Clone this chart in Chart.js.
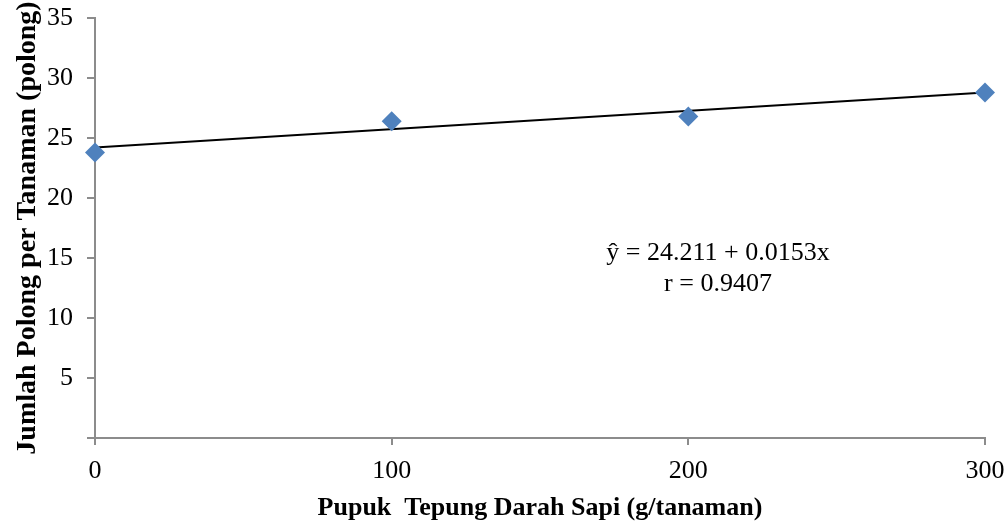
<!DOCTYPE html>
<html>
<head>
<meta charset="utf-8">
<script src="https://cdn.jsdelivr.net/npm/chart.js@4/dist/chart.umd.min.js"></script>
<style>
  html, body { margin: 0; padding: 0; background: #fff; }
  #wrap { width: 1008px; height: 524px; }
</style>
</head>
<body>
<div id="wrap"><canvas id="chart" width="1008" height="524"></canvas></div>
<script>
// dosis pupuk (g/tanaman) dan jumlah polong per tanaman
const doses = [0, 100, 200, 300];
const pods = [23.8, 26.4, 26.8, 28.8];
const yTicks = [0, 5, 10, 15, 20, 25, 30, 35];
const xTicks = [0, 100, 200, 300];

// garis regresi: ŷ = a + bx
const intercept = 24.211;
const slope = 0.0153;
const rValue = 0.9407;
const trendX = [0, 300];

const SERIF = "'Liberation Serif', 'Times New Roman', serif";
const AXIS_GRAY = "#8c8c8c";

// teks persamaan di dalam area plot
const equationLabel = {
  id: "equationLabel",
  afterDatasetsDraw(chart) {
    const { ctx, scales: { x, y } } = chart;
    ctx.save();
    ctx.fillStyle = "#000";
    ctx.font = "26px " + SERIF;
    ctx.textAlign = "center";
    ctx.textBaseline = "middle";
    const cx = x.getPixelForValue(210);
    ctx.fillText("ŷ = " + intercept.toFixed(3) + " + " + slope.toFixed(4) + "x", cx, y.getPixelForValue(15.4));
    ctx.fillText("r = " + rValue.toFixed(4), cx, y.getPixelForValue(12.8));
    ctx.restore();
  },
};

// biar area plot hanya ditentukan oleh layout.padding
const noEdgePad = s => { s.paddingTop = 0; s.paddingBottom = 0; s.paddingLeft = 0; s.paddingRight = 0; };

new Chart(document.getElementById("chart"), {
  type: "scatter",
  data: {
    datasets: [
      {
        label: "Trend",
        type: "line",
        data: trendX.map(v => ({ x: v, y: intercept + slope * v })),
        borderColor: "#000",
        borderWidth: 2,
        pointRadius: 0,
        fill: false,
        order: 2,
      },
      {
        label: "Jumlah polong",
        data: doses.map((d, i) => ({ x: d, y: pods[i] })),
        pointStyle: "rectRot",
        pointRadius: 10,
        pointHoverRadius: 10,
        backgroundColor: "#4f81bd",
        borderColor: "#4f81bd",
        borderWidth: 0,
        clip: false,
        order: 1,
      },
    ],
  },
  options: {
    responsive: false,
    animation: false,
    layout: { padding: { left: 0, right: 23, top: 18, bottom: 0 } },
    plugins: { legend: { display: false }, tooltip: { enabled: false } },
    scales: {
      x: {
        type: "linear",
        min: 0, max: 300,
        afterBuildTicks: s => { s.ticks = xTicks.map(v => ({ value: v })); },
        afterFit: s => { s.height = 86; noEdgePad(s); },
        grid: { drawOnChartArea: false, drawTicks: true, tickLength: 7, color: AXIS_GRAY, lineWidth: 2 },
        border: { color: AXIS_GRAY, width: 2 },
        ticks: { color: "#000", font: { family: SERIF, size: 26 }, padding: 11, maxRotation: 0 },
        title: { display: true, text: "Pupuk  Tepung Darah Sapi (g/tanaman)", color: "#000", font: { family: SERIF, size: 26, weight: "bold" }, padding: { top: 0, bottom: 0 } },
      },
      y: {
        min: 0, max: 35,
        afterBuildTicks: s => { s.ticks = yTicks.map(v => ({ value: v })); },
        afterFit: s => { s.width = 95; noEdgePad(s); },
        grid: { drawOnChartArea: false, drawTicks: true, tickLength: 8, color: AXIS_GRAY, lineWidth: 2 },
        border: { color: AXIS_GRAY, width: 2 },
        ticks: { color: "#000", font: { family: SERIF, size: 26 }, padding: 14, callback: v => (v === 0 ? "" : v) },
        title: { display: true, text: "Jumlah Polong per Tanaman (polong)", color: "#000", font: { family: SERIF, size: 28, weight: "bold" }, padding: { top: 11, bottom: 0 } },
      },
    },
  },
  plugins: [equationLabel],
});
</script>
</body>
</html>
